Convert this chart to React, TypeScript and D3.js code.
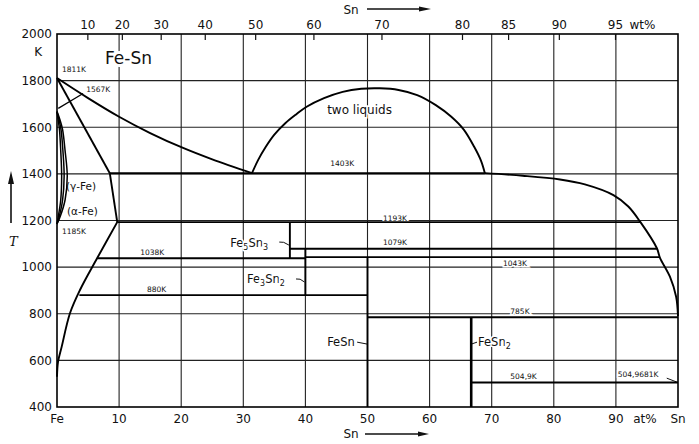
import * as d3 from "d3";

// at% Sn on x, temperature in K on y
const tempTicks = [400, 600, 800, 1000, 1200, 1400, 1600, 1800, 2000];
const atTicks = [10, 20, 30, 40, 50, 60, 70, 80, 90];
const gridTemps = [600, 800, 1000, 1200, 1400, 1600, 1800];
const wtTicks = [10, 20, 30, 40, 50, 60, 70, 80, 85, 90, 95];

// phase boundaries [at%, K]
const liquidusFe = [[0, 1811], [5, 1725], [10, 1645], [15, 1575], [20.3, 1511], [25, 1462], [31.4, 1403]];
const solidusFe = [[0, 1811], [8.5, 1403]];
const deltaLine = [[0.2, 1681], [4.2, 1745]];
const solvusHigh = [[8.5, 1403], [9.7, 1193]];
const solvusLow = [[9.7, 1193], [6.5, 1040], [3.7, 902], [2.1, 803], [0.75, 658], [0.16, 593], [0, 530]];
const gammaOuter = [[0, 1667], [0.5, 1630], [0.9, 1590], [1.3, 1500], [1.65, 1390], [1.3, 1288], [0.5, 1216], [0, 1185]];
const gammaMiddle = [[0, 1667], [0.35, 1630], [0.65, 1590], [0.95, 1500], [1.15, 1390], [0.9, 1288], [0.35, 1216], [0, 1185]];
const gammaInner = [[0, 1667], [0.2, 1630], [0.4, 1590], [0.6, 1500], [0.75, 1390], [0.6, 1288], [0.2, 1216], [0, 1185]];
const twoLiquids = [
  [31.4, 1403], [32.4, 1460], [33.6, 1515], [35, 1568], [36.8, 1618], [38.5, 1655], [40.2, 1688],
  [43, 1725], [46, 1752], [49, 1765], [52, 1767], [55, 1760], [58, 1738], [61, 1695],
  [63.5, 1645], [65.5, 1590], [67.2, 1515], [68.3, 1455], [68.9, 1403],
];
const liquidusSn = [[68.9, 1403], [75, 1392], [81, 1376], [85, 1355], [89.6, 1309], [92, 1260], [93.9, 1195], [96.6, 1081], [97.1, 1040], [98.7, 959], [99.7, 873], [100, 790]];

// invariant horizontals: T, from at%, to at%
const invariants = [
  [1403, 8.5, 68.9],
  [1193, 9.7, 93.9],
  [1079, 37.5, 96.6],
  [1043, 40, 97.0],
  [1038, 6.5, 40],
  [880, 3.6, 50],
  [785, 50, 100],
  [505, 66.7, 100],
];

// compound verticals: at%, T top, T bottom
const compounds = [
  [37.5, 1193, 1038],
  [40, 1079, 880],
  [50, 1043, 400],
  [66.7, 785, 400],
];

// temperature labels: text, at%, K
const tempLabels = [
  ["1811K", 0.8, 1837],
  ["1567K", 4.7, 1751],
  ["1403K", 44, 1434],
  ["1185K", 0.8, 1142],
  ["1038K", 13.4, 1052],
  ["880K", 14.5, 893],
  ["1193K", 52.5, 1198],
  ["1079K", 52.5, 1095],
  ["1043K", 71.8, 1005],
  ["785K", 73, 799],
  ["504,9K", 73, 520],
  ["504,9681K", 90.3, 528],
];

const W = 699;
const H = 444;
const x = d3.scaleLinear().domain([0, 100]).range([57, 678]);
const y = d3.scaleLinear().domain([400, 2000]).range([407, 34]);

const wtToAt = (w: number) => {
  const a = w / 118.71;
  const b = (100 - w) / 55.845;
  return (100 * a) / (a + b);
};

const line = d3
  .line<number[]>()
  .x((d) => x(d[0]))
  .y((d) => y(d[1]));
const smooth = d3
  .line<number[]>()
  .x((d) => x(d[0]))
  .y((d) => y(d[1]))
  .curve(d3.curveCatmullRom.alpha(0.5));

const font = "DejaVu Sans, sans-serif";
const halo = { stroke: "#fff", strokeWidth: 3, paintOrder: "stroke" as const };

export default function App() {
  const [x0, x1] = x.range();
  const [y0, y1] = y.range();
  return (
    <svg
      width={W}
      height={H}
      style={{ position: "fixed", left: 0, top: 0, background: "#fff" }}
      fontFamily={font}
    >
      {/* grid */}
      <g stroke="#222" strokeWidth={1.1}>
        {atTicks.map((t) => (
          <line key={"v" + t} x1={x(t)} x2={x(t)} y1={y1} y2={y0} />
        ))}
        {gridTemps.map((t) => (
          <line key={"h" + t} x1={x0} x2={x1} y1={y(t)} y2={y(t)} />
        ))}
      </g>

      {/* labels sitting on grid lines */}
      <g fontSize={7.5} fill="#111" {...halo}>
        {tempLabels.map(([s, a, t]) => (
          <text key={s as string} x={x(a as number)} y={y(t as number)}>
            {s}
          </text>
        ))}
      </g>
      <text x={105} y={64} fontSize={17} fill="#111" {...halo} strokeWidth={6}>
        Fe-Sn
      </text>
      <text x={x(43.5)} y={y(1657)} fontSize={12} fill="#111" {...halo}>
        two liquids
      </text>
      <g fontSize={11.5} fill="#111" {...halo}>
        <text x={x(27.9)} y={y(1086)}>
          Fe<tspan fontSize={8} dy={3}>5</tspan>
          <tspan dy={-3}>Sn</tspan>
          <tspan fontSize={8} dy={3}>3</tspan>
        </text>
        <text x={x(30.6)} y={y(932)}>
          Fe<tspan fontSize={8} dy={3}>3</tspan>
          <tspan dy={-3}>Sn</tspan>
          <tspan fontSize={8} dy={3}>2</tspan>
        </text>
        <text x={x(43.5)} y={y(661)}>FeSn</text>
        <text x={x(67.8)} y={y(661)}>
          FeSn<tspan fontSize={8} dy={3}>2</tspan>
        </text>
      </g>
      <g fontSize={10.5} fill="#111">
        <text x={66} y={190}>(γ-Fe)</text>
        <text x={67} y={215}>(α-Fe)</text>
      </g>

      {/* leaders */}
      <g stroke="#111" strokeWidth={1} fill="none">
        <path d={`M${x(27.9) + 49},${y(1086) - 5} q4,-1 ${x(37.5) - x(27.9) - 50},3`} />
        <path d={`M${x(30.6) + 49},${y(932) - 4} q4,-1 ${x(40) - x(30.6) - 50},3`} />
        <line x1={x(43.5) + 30} x2={x(50)} y1={y(661) - 4} y2={y(661) - 2} />
        <line x1={x(66.7)} x2={x(67.8) - 1} y1={y(661) - 2} y2={y(661) - 4} />
        <line x1={x(90.3) + 49} x2={x(100)} y1={y(528) + 1} y2={y(505)} />
      </g>

      {/* phase boundaries */}
      <g stroke="#000" strokeWidth={1.9} fill="none" strokeLinejoin="round">
        <path d={smooth(liquidusFe) ?? ""} />
        <path d={line(solidusFe) ?? ""} />
        <path d={line(deltaLine) ?? ""} strokeWidth={1.2} />
        <path d={line(solvusHigh) ?? ""} />
        <path d={smooth(solvusLow) ?? ""} />
        <path d={smooth(gammaOuter) ?? ""} strokeWidth={1.5} />
        <path d={smooth(gammaMiddle) ?? ""} strokeWidth={1.5} />
        <path d={smooth(gammaInner) ?? ""} strokeWidth={1.5} />
        <path d={smooth(twoLiquids) ?? ""} />
        <path d={smooth(liquidusSn) ?? ""} />
        {invariants.map(([t, a, b]) => (
          <line key={"i" + t} x1={x(a)} x2={x(b)} y1={y(t)} y2={y(t)} />
        ))}
        {compounds.map(([a, t0, t1]) => (
          <line
            key={"c" + a}
            x1={x(a)}
            x2={x(a)}
            y1={y(t0)}
            y2={y(t1)}
            strokeWidth={a === 66.7 ? 2.6 : 1.9}
          />
        ))}
      </g>

      {/* frame */}
      <rect x={x0} y={y1} width={x1 - x0} height={y0 - y1} fill="none" stroke="#000" strokeWidth={1.6} />

      {/* left axis */}
      <g fontSize={12} fill="#111" textAnchor="end">
        {tempTicks.map((t) => (
          <text key={"yt" + t} x={52} y={y(t)} dy="0.36em">
            {t}
          </text>
        ))}
        <text x={42} y={56}>K</text>
      </g>
      <line x1={11} x2={11} y1={223} y2={182} stroke="#111" strokeWidth={1.6} />
      <path d="M11,171 L8,184 L14,184 Z" fill="#111" />
      <text x={9} y={246} fontSize={13} fontStyle="italic" fill="#111" fontFamily="DejaVu Serif, serif">
        T
      </text>

      {/* bottom axis */}
      <g fontSize={12} fill="#111" textAnchor="middle">
        <text x={x(0)} y={423}>Fe</text>
        {atTicks.map((t) => (
          <text key={"xt" + t} x={x(t)} y={423}>
            {t}
          </text>
        ))}
        <text x={x(95)} y={423} dx={-2}>at%</text>
        <text x={x(100)} y={423}>Sn</text>
        <text x={351} y={438}>Sn</text>
      </g>
      <line x1={365} x2={422} y1={434} y2={434} stroke="#111" strokeWidth={1.4} />
      <path d="M429,434 L418,431.5 L418,436.5 Z" fill="#111" />

      {/* top axis (wt%) */}
      <g stroke="#111" strokeWidth={1.2}>
        {wtTicks.map((w) => (
          <line key={"wt" + w} x1={x(wtToAt(w))} x2={x(wtToAt(w))} y1={y1} y2={y1 + 6} />
        ))}
      </g>
      <g fontSize={12} fill="#111" textAnchor="middle">
        {wtTicks.map((w) => (
          <text key={"wl" + w} x={x(wtToAt(w))} y={29}>
            {w}
          </text>
        ))}
        <text x={x(wtToAt(95)) + 14} y={29} textAnchor="start">wt%</text>
        <text x={351} y={14}>Sn</text>
      </g>
      <line x1={367} x2={423} y1={9} y2={9} stroke="#111" strokeWidth={1.4} />
      <path d="M431,9 L419,6.5 L419,11.5 Z" fill="#111" />
    </svg>
  );
}
